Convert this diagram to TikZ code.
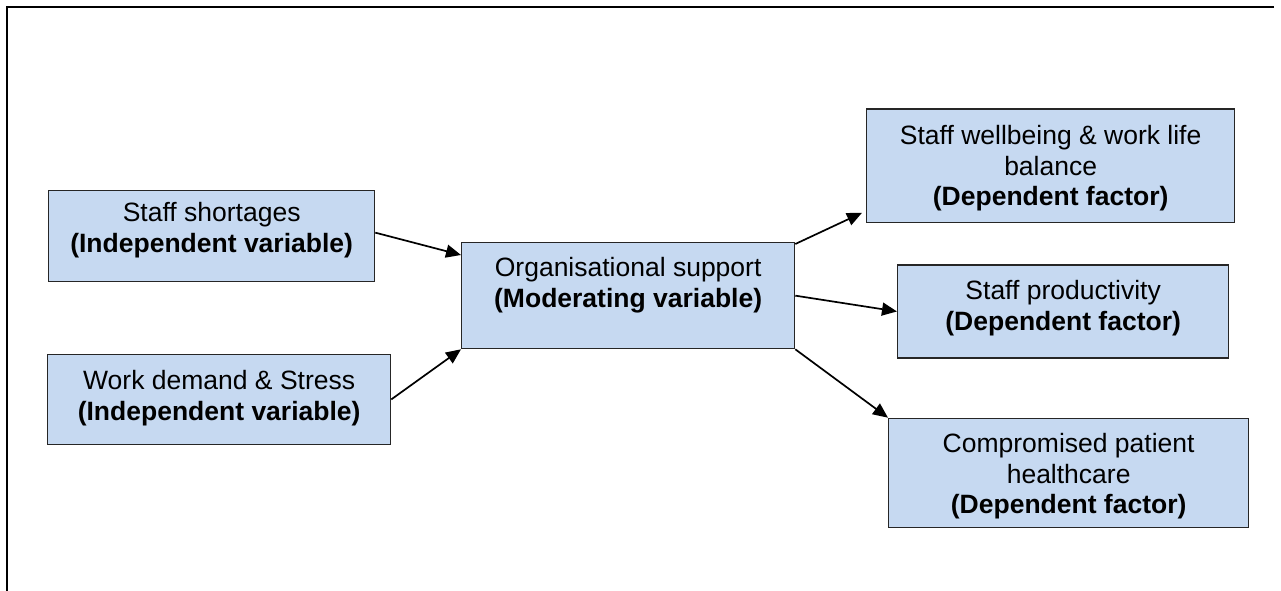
\documentclass[tikz,border=0pt]{standalone}
\usepackage{fontspec}
\setmainfont{Liberation Sans}
\usetikzlibrary{arrows.meta}
\definecolor{boxfill}{RGB}{198,217,241}
% invisible struts that set the gap above the first and below the last line
\newcommand{\topgap}[1]{\rule{0pt}{#1pt}}
\newcommand{\botgap}[1]{\rule[-#1pt]{0pt}{0pt}}
\begin{document}
\begin{tikzpicture}[x=1pt,y=-1pt,
  box/.style={draw=black!85, line width=1.3pt, fill=boxfill, align=center,
    inner sep=0pt, anchor=north west, font=\fontsize{26.5}{30.5}\selectfont},
  link/.style={line width=1.7pt, -{Triangle[length=15pt,width=13pt]}},
  frameline/.style={line width=2pt}]
  \useasboundingbox (0,0) rectangle (1281,591);
  % partial frame: top and left edges
  \coordinate (ftr) at (1274,7);
  \coordinate (ftl) at (7,7);
  \coordinate (fbl) at (7,591);
  \draw[frameline] (ftr) -- (ftl) -- (fbl);

  % independent variables
  \node[box, minimum width=326pt] (ss) at (48,190)
    {\topgap{31}Staff shortages\\\textbf{(Independent variable)}\botgap{29.5}};
  \node[box, minimum width=343pt] (wd) at (47,353.5)
    {\topgap{35.5}Work demand \& Stress\\\textbf{(Independent variable)}\botgap{24.5}};

  % moderating variable
  \node[box, minimum width=333pt] (org) at (461,242)
    {\topgap{34}Organisational support\\\textbf{(Moderating variable)}\botgap{41.5}};

  % dependent factors
  \node[box, minimum width=368pt] (wb) at (866,108.5)
    {\topgap{35.8}Staff wellbeing \& work life\\balance\\\textbf{(Dependent factor)}\botgap{16.2}};
  \node[box, minimum width=331pt] (sp) at (897,264.3)
    {\topgap{35}Staff productivity\\\textbf{(Dependent factor)}\botgap{27.5}};
  \node[box, minimum width=360pt] (cp) at (888,417.7)
    {\topgap{34.6}Compromised patient\\healthcare\\\textbf{(Dependent factor)}\botgap{13.2}};

  % connectors
  \draw[link] ([yshift=3.5pt]ss.east) -- ([yshift=-13pt]org.north west);
  \draw[link] (wd.east) -- (org.south west);
  \draw[link] ([yshift=-2pt]org.north east) -- ([xshift=-4pt,yshift=10pt]wb.south west);
  \draw[link] (org.east) -- (sp.west);
  \draw[link] (org.south east) -- (cp.north west);
\end{tikzpicture}
\end{document}
